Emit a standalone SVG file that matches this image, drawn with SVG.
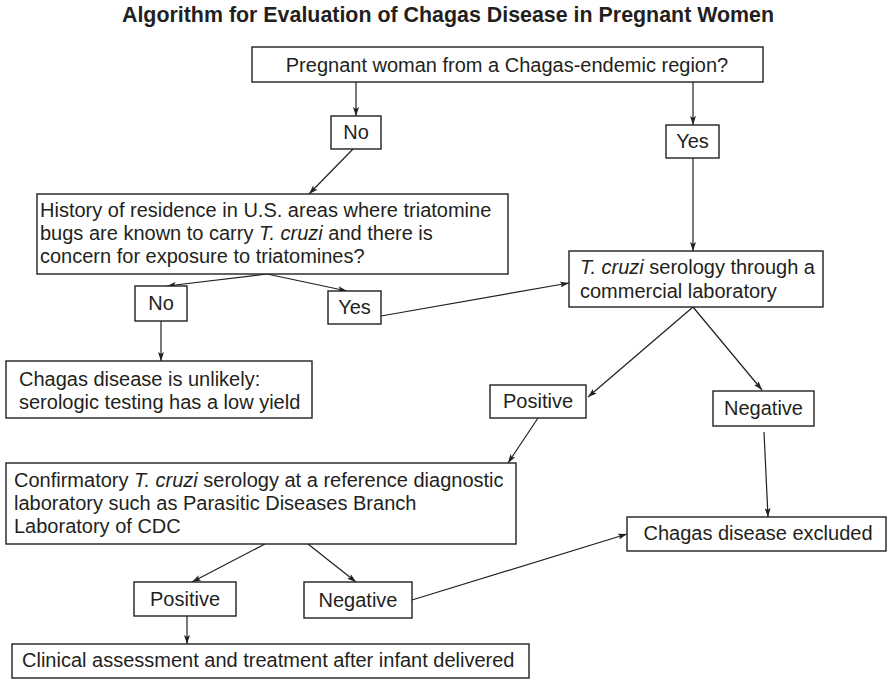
<svg xmlns="http://www.w3.org/2000/svg" width="889" height="679" viewBox="0 0 889 679">
<style>
  .box { fill: #ffffff; stroke: #231f20; stroke-width: 1.4; }
  .t { font-family: "Liberation Sans", Arial, sans-serif; font-size: 20px; fill: #231f20; }
  .c { text-anchor: middle; }
  .i { font-style: italic; }
  .title { font-family: "Liberation Sans", Arial, sans-serif; font-size: 21.4px; font-weight: bold; fill: #231f20; text-anchor: middle; }
  .ln { stroke: #231f20; stroke-width: 1.2; fill: none; marker-end: url(#ah); }
</style>
<defs>
  <marker id="ah" markerWidth="9" markerHeight="6" refX="9" refY="3" orient="auto" markerUnits="userSpaceOnUse">
    <path d="M0,0 L9,3 L0,6 L2,3 z" fill="#231f20"/>
  </marker>
</defs>
<rect width="889" height="679" fill="#ffffff"/>
<text class="title" x="448" y="22">Algorithm for Evaluation of Chagas Disease in Pregnant Women</text>

<g id="connectors">
  <line class="ln" x1="356" y1="82" x2="356" y2="116"/>
  <line class="ln" x1="693" y1="82" x2="693" y2="125"/>
  <line class="ln" x1="353" y1="149" x2="309" y2="194"/>
  <line class="ln" x1="693" y1="158" x2="693" y2="251"/>
  <line class="ln" x1="267" y1="274" x2="167" y2="286"/>
  <line class="ln" x1="267" y1="274" x2="347" y2="291"/>
  <line class="ln" x1="381" y1="316" x2="569" y2="283"/>
  <line class="ln" x1="161" y1="321" x2="161" y2="361"/>
  <line class="ln" x1="693" y1="307" x2="588" y2="397"/>
  <line class="ln" x1="693" y1="307" x2="762" y2="390"/>
  <line class="ln" x1="538" y1="418" x2="508" y2="463"/>
  <line class="ln" x1="764" y1="432" x2="768" y2="517"/>
  <line class="ln" x1="265" y1="544" x2="192" y2="582"/>
  <line class="ln" x1="308" y1="544" x2="356" y2="582"/>
  <line class="ln" x1="412" y1="600" x2="627" y2="534"/>
  <line class="ln" x1="187" y1="616" x2="187" y2="644"/>
</g>

<g id="start">
  <rect class="box" x="252" y="47" width="511" height="35"/>
  <text class="t c" x="507" y="72">Pregnant woman from a Chagas-endemic region?</text>
</g>
<g id="no1">
  <rect class="box" x="331" y="116" width="50" height="33"/>
  <text class="t c" x="356" y="139">No</text>
</g>
<g id="yes1">
  <rect class="box" x="666" y="125" width="53" height="33"/>
  <text class="t c" x="692.5" y="148">Yes</text>
</g>
<g id="history">
  <rect class="box" x="37" y="194" width="471" height="80"/>
  <text class="t" x="40" y="217">History of residence in U.S. areas where triatomine</text>
  <text class="t" x="40" y="240">bugs are known to carry <tspan class="i">T. cruzi</tspan> and there is</text>
  <text class="t" x="40" y="263">concern for exposure to triatomines?</text>
</g>
<g id="no2">
  <rect class="box" x="135" y="286" width="52" height="35"/>
  <text class="t c" x="161" y="310">No</text>
</g>
<g id="yes2">
  <rect class="box" x="328" y="291" width="53" height="33"/>
  <text class="t c" x="354.5" y="314">Yes</text>
</g>
<g id="unlikely">
  <rect class="box" x="6" y="361" width="306" height="57"/>
  <text class="t" x="19" y="386">Chagas disease is unlikely:</text>
  <text class="t" x="19" y="409">serologic testing has a low yield</text>
</g>
<g id="serology">
  <rect class="box" x="569" y="251" width="254" height="56"/>
  <text class="t" x="580" y="274"><tspan class="i">T. cruzi</tspan> serology through a</text>
  <text class="t" x="580" y="298">commercial laboratory</text>
</g>
<g id="pos1">
  <rect class="box" x="490" y="385" width="96" height="33"/>
  <text class="t c" x="538" y="408">Positive</text>
</g>
<g id="neg1">
  <rect class="box" x="713" y="391" width="101" height="35"/>
  <text class="t c" x="763.5" y="415">Negative</text>
</g>
<g id="confirm">
  <rect class="box" x="6" y="463" width="510" height="81"/>
  <text class="t" x="14" y="487">Confirmatory <tspan class="i">T. cruzi</tspan> serology at a reference diagnostic</text>
  <text class="t" x="14" y="510">laboratory such as Parasitic Diseases Branch</text>
  <text class="t" x="14" y="533">Laboratory of CDC</text>
</g>
<g id="excluded">
  <rect class="box" x="627" y="517" width="259" height="34"/>
  <text class="t c" x="758" y="540">Chagas disease excluded</text>
</g>
<g id="pos2">
  <rect class="box" x="134" y="582" width="102" height="34"/>
  <text class="t c" x="185" y="606">Positive</text>
</g>
<g id="neg2">
  <rect class="box" x="304" y="582" width="108" height="36"/>
  <text class="t c" x="358" y="607">Negative</text>
</g>
<g id="clinical">
  <rect class="box" x="12" y="644" width="517" height="34"/>
  <text class="t" x="22" y="667">Clinical assessment and treatment after infant delivered</text>
</g>
</svg>
